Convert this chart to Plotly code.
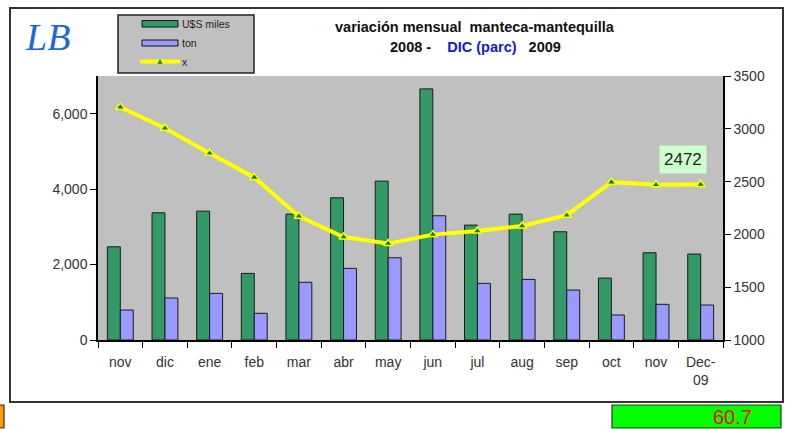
import plotly.graph_objects as go

# ---- data ----
month_labels = ["nov", "dic", "ene", "feb", "mar", "abr", "may", "jun",
                "jul", "aug", "sep", "oct", "nov", "Dec-<br>09"]
usd_miles = [2472, 3373, 3417, 1766, 3338, 3770, 4212, 6658,
             3046, 3338, 2870, 1642, 2313, 2278]
ton = [795, 1113, 1236, 707, 1530, 1899, 2181, 3294,
       1501, 1607, 1324, 662, 946, 927]
x_ratio = [3205, 3006, 2768, 2540, 2172, 1975, 1913, 1998,
           2032, 2080, 2182, 2495, 2470, 2472]
left_ticks = [0, 2000, 4000, 6000]
right_ticks = [1000, 1500, 2000, 2500, 3000, 3500]
corner_value = "60.7"

W, H = 786, 429


def px(x):
    return x / W


def py(y):
    return 1 - y / H


xs = list(range(len(month_labels)))

fig = go.Figure()
fig.add_trace(go.Bar(x=xs, y=usd_miles, name="U$S miles",
                     marker=dict(color="#339966", line=dict(color="#1a1a1a", width=1))))
fig.add_trace(go.Bar(x=xs, y=ton, name="ton",
                     marker=dict(color="#9999FF", line=dict(color="#1a1a1a", width=1))))
fig.add_trace(go.Scatter(x=xs, y=x_ratio, name="x", yaxis="y2", mode="lines+markers",
                         line=dict(color="#FFFF00", width=4),
                         marker=dict(symbol="triangle-up", size=8, color="#008000",
                                     line=dict(color="#FFFF00", width=1.5))))

font = "Liberation Sans, Arial, sans-serif"
tickfont = dict(size=14, color="#333")
fig.update_layout(
    width=W, height=H, autosize=False,
    margin=dict(l=0, r=0, t=0, b=0, pad=0, autoexpand=False),
    paper_bgcolor="white",
    plot_bgcolor="#C0C0C0",
    showlegend=False,
    barmode="group", bargap=0.42, bargroupgap=0,
    font=dict(family=font, size=11, color="#222"),
    xaxis=dict(domain=[px(98), px(723)], range=[-0.5, len(xs) - 0.5], automargin=False,
               tickmode="array", tickvals=xs, ticktext=month_labels,
               ticks="", showline=True, linecolor="black", linewidth=1.5,
               ticklabelstandoff=8,
               showgrid=False, zeroline=False, tickfont=tickfont,
               minor=dict(tickmode="array", tickvals=[i - 0.5 for i in range(len(xs) + 1)],
                          ticks="outside", ticklen=6, tickcolor="black", tickwidth=1.2,
                          showgrid=False)),
    yaxis=dict(domain=[1 - 340 / H, 1 - 76 / H], range=[0, 7000], automargin=False,
               tickmode="array", tickvals=left_ticks, tickformat=",",
               ticks="outside", ticklen=6, tickcolor="black",
               showline=True, linecolor="black", linewidth=1.5,
               showgrid=False, zeroline=False, tickfont=tickfont),
    yaxis2=dict(overlaying="y", side="right", anchor="x", range=[1000, 3500], automargin=False,
                tickmode="array", tickvals=right_ticks,
                ticks="outside", ticklen=6, tickcolor="black",
                showline=True, linecolor="black", linewidth=1.5,
                showgrid=False, zeroline=False, tickfont=tickfont),
)

shapes = []
# outer frame
shapes.append(dict(type="rect", xref="paper", yref="paper",
                   x0=px(10), x1=px(783), y0=py(402), y1=py(8),
                   line=dict(color="#333", width=2), fillcolor="rgba(0,0,0,0)", layer="below"))
# legend box
shapes.append(dict(type="rect", xref="paper", yref="paper",
                   x0=px(118), x1=px(254), y0=py(73), y1=py(15),
                   line=dict(color="#222", width=1.5), fillcolor="#C0C0C0"))
shapes.append(dict(type="rect", xref="paper", yref="paper",
                   x0=px(142), x1=px(178), y0=py(27), y1=py(20.5),
                   line=dict(color="#111", width=1), fillcolor="#339966"))
shapes.append(dict(type="rect", xref="paper", yref="paper",
                   x0=px(142), x1=px(178), y0=py(46), y1=py(40),
                   line=dict(color="#111", width=1), fillcolor="#9999FF"))
shapes.append(dict(type="line", xref="paper", yref="paper",
                   x0=px(140), x1=px(180), y0=py(61.5), y1=py(61.5),
                   line=dict(color="#FFFF00", width=4)))
shapes.append(dict(type="path", xref="paper", yref="paper",
                   path=f"M {px(158)} {py(63.5)} L {px(162)} {py(63.5)} L {px(160)} {py(59.5)} Z",
                   fillcolor="#008000", line=dict(color="#008000", width=0.5)))
# bottom boxes
shapes.append(dict(type="rect", xref="paper", yref="paper",
                   x0=px(612), x1=px(781), y0=py(428), y1=py(405),
                   line=dict(color="#333", width=1.2), fillcolor="#00FF00"))
shapes.append(dict(type="rect", xref="paper", yref="paper",
                   x0=px(-2), x1=px(4), y0=py(428), y1=py(405),
                   line=dict(color="#333", width=1.2), fillcolor="#FF9900"))
fig.update_layout(shapes=shapes)

ann = []
leg_font = dict(size=10.5, color="#222")
ann.append(dict(xref="paper", yref="paper", x=px(180), y=py(24), xanchor="left", yanchor="middle",
                text="U$S miles", showarrow=False, font=leg_font))
ann.append(dict(xref="paper", yref="paper", x=px(180), y=py(43), xanchor="left", yanchor="middle",
                text="ton", showarrow=False, font=leg_font))
ann.append(dict(xref="paper", yref="paper", x=px(180), y=py(62), xanchor="left", yanchor="middle",
                text="x", showarrow=False, font=leg_font))
# title
ann.append(dict(xref="paper", yref="paper", x=px(475), y=py(27), xanchor="center", yanchor="middle",
                text="<b>variación mensual&nbsp; manteca-mantequilla</b>", showarrow=False,
                font=dict(size=14.5, color="#111")))
ann.append(dict(xref="paper", yref="paper", x=px(475), y=py(47), xanchor="center", yanchor="middle",
                text="<b>2008 -&nbsp;&nbsp;&nbsp; <span style='color:#1515E0'>DIC (parc)</span>&nbsp;&nbsp; 2009</b>",
                showarrow=False, font=dict(size=14.5, color="#111")))
# logo
ann.append(dict(xref="paper", yref="paper", x=px(47), y=py(37), xanchor="center", yanchor="middle",
                text="<i>LB</i>", showarrow=False,
                font=dict(family="Liberation Serif, DejaVu Serif, serif", size=38, color="#1A6AD8")))
# value label
ann.append(dict(xref="paper", yref="paper", x=px(683), y=py(159), xanchor="center", yanchor="middle",
                text=str(x_ratio[-1]), showarrow=False, bgcolor="#CCFFCC", borderpad=4,
                font=dict(size=17, color="#222")))
# bottom value
ann.append(dict(xref="paper", yref="paper", x=px(754), y=py(416.5), xanchor="right", yanchor="middle",
                text=corner_value, showarrow=False,
                font=dict(family="Liberation Sans Narrow, Liberation Sans, Arial, sans-serif",
                          size=20, color="#FF0000")))
fig.update_layout(annotations=ann)

fig.write_html("out.html", config={"displayModeBar": False},
               post_script="document.body.style.margin='0';document.body.style.overflow='hidden';")
